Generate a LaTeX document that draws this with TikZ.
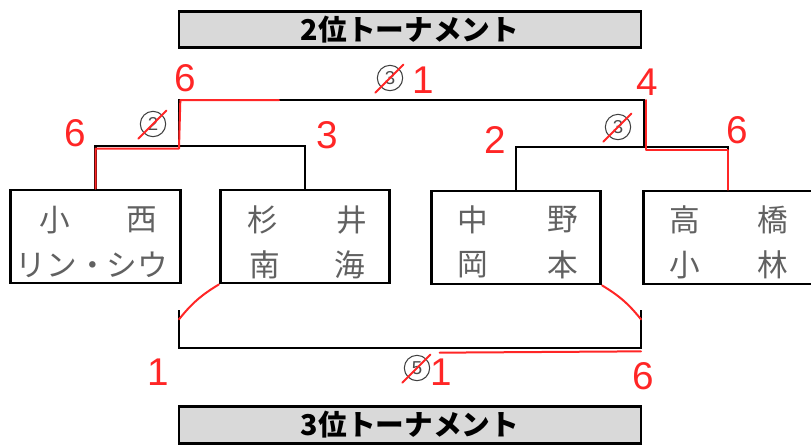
\documentclass[tikz,border=0pt]{standalone}
\usepackage{fontspec}
\setmainfont{Liberation Sans}
\newfontfamily\jpfont{Noto Sans CJK JP}
\usepackage{tikz}
\usetikzlibrary{positioning}

\begin{document}
\begin{tikzpicture}[x=0.75pt,y=-0.75pt,
  title/.style={draw,line width=2.2pt,fill=black!15,minimum width=346.5pt,minimum height=27.5pt,inner sep=0pt,font=\jpfont\bfseries\fontsize{21.5}{21.5}\selectfont},
  namebox/.style={draw,line width=2.2pt,fill=white,minimum width=127pt,minimum height=69.75pt,inner sep=0pt},
  pen/.style={text=black!62,font=\jpfont\fontsize{23}{23}\selectfont,inner sep=0pt},
  bracket/.style={line width=2.2pt},
  redline/.style={draw=red!85!white,line width=1.5pt,line cap=round,line join=round},
  score/.style={text=red!85!white,font=\fontsize{29}{29}\selectfont,inner sep=0pt},
  seed/.style={draw=black!75,circle,line width=0.8pt,minimum size=19pt,inner sep=0pt,text=black!70,font=\fontsize{14}{14}\selectfont}]
   \useasboundingbox (0,0) rectangle (811,444); % page size
   % titles
   \node[title] (title2) at (410,29.5) {2位トーナメント};
   \node[title] (title3) at (410,425) {3位トーナメント};
   % players
   \node[namebox] (box1) at (95.5,236.5) {};
   \node[namebox] (box2) at (305,236.5) {};
   \node[namebox] (box3) at (516,237.5) {};
   \node[namebox] (box4) at (728,237.5) {};
   \foreach \x/\y/\t [count=\i] in {55/220/小,142/220/西,62/265/リン・,137/265/シウ,
                                    263/220/杉,352/220/井,265/265/南,350/265/海,
                                    473/220/中,563/220/野,473/265/岡,563/265/本,
                                    685/220/高,773/220/橋,685/265/小,773/265/林}
   {\node[pen] (name\i) at (\x,\y) {\t};} % names written in the boxes
   % bracket corners
   \coordinate (semiL) at (179,146);
   \coordinate (semiR) at (644,147);
   \coordinate (finalL) at (179,100);
   \coordinate (finalR) at (644,100);
   \coordinate (thirdL) at (179,310);
   \coordinate (thirdR) at (641,310);
   \coordinate (thirdBL) at (179,348);
   \coordinate (thirdBR) at (641,348);
   \draw[bracket] (box1.north) |- (semiL) -| (box2.north); % left semifinal
   \draw[bracket] (box3.north) |- (semiR) -| (box4.north); % right semifinal
   \draw[bracket] (semiL) -- (finalL) -- (finalR) -- (semiR); % final
   \draw[bracket] (thirdL) -- (thirdBL) -- (thirdBR) -- (thirdR); % third place
   % results in red
   \draw[redline] (box1.north) |- ([yshift=-2pt]semiL) -- ([xshift=1pt]finalL) -- ([xshift=75pt]finalL);
   \draw[redline] (box4.north) |- ([xshift=1.5pt,yshift=-2pt]semiR) -- ([xshift=1.5pt]finalR);
   \draw[redline] (box2.south west) to[bend right=10] ([yshift=-7pt]thirdL);
   \draw[redline] (box3.south east) to[bend left=10] ([yshift=-7pt]thirdR);
   \draw[redline] ([yshift=-2.5pt]thirdBR) -- ++(-151pt,-1pt);
   \node[score] (s1) at (75,133) {6};
   \node[score] (s2) at (185,78) {6};
   \node[score] (s3) at (327,135) {3};
   \node[score] (s4) at (495,140) {2};
   \node[score] (s5) at (647,82) {4};
   \node[score] (s6) at (737,130) {6};
   \node[score] (s7) at (423,80) {1};
   \node[score] (s8) at (158,372) {1};
   \node[score] (s9) at (643,376) {6};
   \node[score] (s10) at (441,372) {1};
   % crossed out numbers
   \node[seed] (c1) at (153,124) {2};
   \node[seed] (c2) at (390,78) {3};
   \node[seed] (c3) at (618,127) {3};
   \node[seed] (c4) at (417,368) {5};
   \foreach \c in {c1,c2,c3,c4}
   {\draw[redline] ([shift={(-4pt,-4pt)}]\c.south west) -- ([shift={(3pt,3pt)}]\c.north east);} % strike
\end{tikzpicture}
\end{document}
